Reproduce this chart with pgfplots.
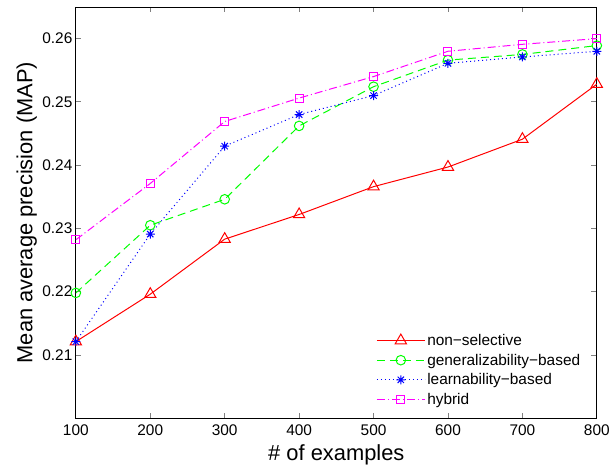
\documentclass[border=0pt]{standalone}
\usepackage{fontspec}
\setmainfont{Liberation Sans}
\usepackage{pgfplots}
\pgfplotsset{compat=1.18}
\definecolor{mred}{RGB}{255,0,0}
\definecolor{mgreen}{RGB}{0,255,0}
\definecolor{mblue}{RGB}{0,0,255}
\definecolor{mmag}{RGB}{255,0,255}
\pgfdeclareplotmark{mstar}{%
  \pgfpathmoveto{\pgfqpoint{-\pgfplotmarksize}{0pt}}\pgfpathlineto{\pgfqpoint{\pgfplotmarksize}{0pt}}%
  \pgfpathmoveto{\pgfqpoint{0pt}{-\pgfplotmarksize}}\pgfpathlineto{\pgfqpoint{0pt}{\pgfplotmarksize}}%
  \pgfpathmoveto{\pgfqpoint{-0.707\pgfplotmarksize}{-0.707\pgfplotmarksize}}\pgfpathlineto{\pgfqpoint{0.707\pgfplotmarksize}{0.707\pgfplotmarksize}}%
  \pgfpathmoveto{\pgfqpoint{-0.707\pgfplotmarksize}{0.707\pgfplotmarksize}}\pgfpathlineto{\pgfqpoint{0.707\pgfplotmarksize}{-0.707\pgfplotmarksize}}%
  \pgfusepathqstroke}
\begin{document}
\begin{tikzpicture}
\begin{axis}[
  scale only axis,
  width=522bp, height=412bp,
  xmin=100, xmax=800, ymin=0.2, ymax=0.265,
  xtick={100,200,...,800},
  ytick={0.21,0.22,0.23,0.24,0.25,0.26},
  yticklabel style={/pgf/number format/.cd,fixed,precision=2,zerofill},
  /pgf/number format/assume math mode=true,
  tick align=inside,
  tick pos=both,
  major tick length=5.5bp,
  major tick style={line width=0.8pt},
  ticklabel style={font=\fontsize{15.5}{18}\selectfont},
  xticklabel style={yshift=-3bp},
  xlabel={\# of examples},
  ylabel={Mean average precision (MAP)},
  label style={font=\fontsize{22}{26}\selectfont},
  xlabel style={at={(axis description cs:0.5,-0.1019)}, anchor=base},
  ylabel style={at={(axis description cs:-0.0833,0.5)}, anchor=base},
  axis line style={black, line width=0.9pt},
  legend style={at={(0.978,0.02)}, anchor=south east, draw=none, fill=none,
    font=\fontsize{15.5}{18}\selectfont, row sep=3bp,
    legend cell align=left},
  legend image code/.code={\draw[mark repeat=2,mark phase=2,#1] plot coordinates {(0bp,0bp) (24bp,0bp) (48bp,0bp)};},
]
\addplot[color=mred, line width=1pt, mark=triangle, mark size=6.5bp, mark options={solid}]
 coordinates {(100,0.2121) (200,0.2196) (300,0.2283) (400,0.2322) (500,0.2366) (600,0.2397) (700,0.2441) (800,0.2528)};
\addlegendentry{non−selective}
\addplot[color=mgreen, line width=1pt, dash pattern=on 8bp off 5bp, mark=o, mark size=4.8bp, mark options={solid}]
 coordinates {(100,0.2198) (200,0.2305) (300,0.2346) (400,0.2462) (500,0.2524) (600,0.2566) (700,0.2575) (800,0.2589)};
\addlegendentry{generalizability−based}
\addplot[color=mblue, line width=1pt, dash pattern=on 1bp off 3bp, mark=mstar, mark size=4.5bp, mark options={solid}]
 coordinates {(100,0.2121) (200,0.2291) (300,0.2430) (400,0.2480) (500,0.2510) (600,0.2561) (700,0.2571) (800,0.2580)};
\addlegendentry{learnability−based}
\addplot[color=mmag, line width=1pt, dash pattern=on 8bp off 3bp on 1bp off 3bp, mark=square, mark size=4bp, mark options={solid}]
 coordinates {(100,0.2282) (200,0.2371) (300,0.2469) (400,0.2506) (500,0.2540) (600,0.2580) (700,0.2591) (800,0.2600)};
\addlegendentry{hybrid}
\end{axis}
\path ([xshift=-76bp,yshift=-47bp]current axis.south west) rectangle ([xshift=15bp,yshift=7bp]current axis.north east);
\end{tikzpicture}
\end{document}
